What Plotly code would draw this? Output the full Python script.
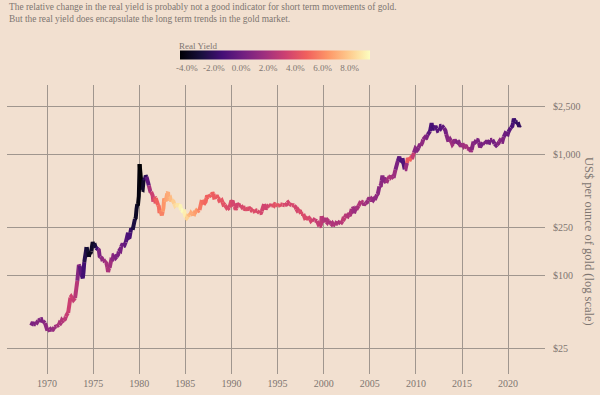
import numpy as np
import pandas as pd
import plotly.graph_objects as go
from plotly.colors import sample_colorscale

# ---------------- data ----------------
start_month = "1968-04-01"

# monthly gold price, US$ / oz (Apr 1968 .. Apr 2021)
gold_price = [
    38.5, 40.6, 41.1, 39.5, 39.2, 39.5, 39.4, 40.2, 41.1,
    42.3, 42.6, 43.3, 43.4, 43.5, 41.2, 42.0, 41.0, 40.9, 40.4, 37.5, 35.2,
    34.9, 35.0, 35.3, 35.6, 36.0, 35.4, 35.3, 35.4, 36.2, 37.5, 37.4, 37.4,
    37.9, 38.7, 38.9, 39.0, 40.5, 40.1, 41.0, 42.7, 42.0, 42.5, 42.9, 43.5,
    45.8, 48.3, 48.3, 49.0, 54.6, 62.1, 65.7, 67.0, 65.5, 64.9, 62.9, 63.9,
    65.1, 74.2, 84.4, 90.5, 102.0, 122.5, 120.2, 106.8, 103.0, 100.1, 94.8, 106.7,
    129.2, 150.2, 168.4, 172.2, 163.3, 154.1, 143.0, 154.6, 151.8, 158.8, 181.7, 190.0,
    175.8, 179.6, 178.2, 170.0, 167.2, 164.2, 165.1, 163.1, 144.6, 142.8, 142.2, 139.3,
    131.6, 131.0, 132.6, 128.3, 128.4, 125.7, 117.8, 107.0, 114.1, 116.0, 130.6, 133.6,
    132.3, 136.3, 148.3, 149.2, 146.6, 140.8, 143.4, 144.9, 149.2, 158.6, 162.2, 160.4,
    173.2, 178.2, 183.7, 175.3, 176.3, 183.7, 188.6, 206.3, 212.6, 227.2, 206.0, 207.8,
    227.3, 245.7, 242.1, 239.2, 257.6, 279.1, 294.7, 300.8, 355.1, 392.0, 392.7, 455.1,
    840.0, 665.3, 553.6, 517.4, 513.8, 600.7, 644.3, 626.5, 673.6, 661.1, 623.5, 594.9,
    557.6, 500.8, 499.1, 494.5, 479.7, 460.8, 409.3, 410.1, 443.6, 437.7, 413.4, 410.1,
    384.2, 374.3, 330.2, 350.5, 333.9, 314.9, 339.1, 364.1, 435.7, 422.5, 415.0, 445.6,
    481.3, 491.4, 419.9, 432.3, 438.0, 412.6, 422.8, 416.3, 411.9, 393.9, 381.5, 388.1,
    370.0, 385.9, 394.1, 381.1, 377.6, 377.6, 347.9, 348.4, 341.1, 340.2, 341.2, 320.2,
    303.0, 298.7, 304.3, 324.9, 316.5, 316.8, 317.3, 329.7, 323.7, 325.7, 325.5, 322.4,
    345.4, 339.0, 345.7, 340.4, 342.6, 342.6, 348.7, 376.1, 418.9, 423.3, 398.4, 391.1,
    408.3, 401.1, 408.9, 438.4, 460.5, 449.0, 450.5, 461.0, 460.1, 465.4, 467.6, 486.3,
    477.6, 442.2, 443.6, 452.0, 451.0, 452.0, 436.9, 432.5, 413.2, 406.8, 419.8, 419.1,
    404.0, 387.8, 390.2, 384.2, 371.2, 367.6, 375.0, 365.4, 362.6, 367.1, 393.9, 409.4,
    410.1, 416.8, 393.1, 374.3, 369.1, 352.3, 362.5, 394.7, 389.1, 380.8, 381.5, 378.2,
    383.6, 363.8, 363.3, 358.4, 356.8, 366.7, 367.7, 356.2, 348.7, 358.7, 359.7, 361.1,
    354.5, 353.9, 344.3, 338.6, 337.2, 340.8, 352.7, 342.8, 345.4, 344.4, 335.0, 334.7,
    329.0, 329.3, 330.1, 342.2, 367.2, 371.9, 392.0, 378.6, 355.3, 364.2, 373.8, 383.3,
    387.0, 381.8, 384.1, 377.3, 381.4, 385.6, 385.0, 380.4, 391.6, 389.8, 384.4, 379.3,
    378.6, 376.5, 382.1, 391.0, 385.3, 387.6, 386.2, 383.7, 383.1, 383.1, 385.9, 387.4,
    400.1, 404.8, 396.2, 392.8, 392.0, 385.4, 383.5, 387.5, 383.1, 381.1, 377.9, 369.3,
    355.0, 346.6, 351.8, 344.5, 343.8, 340.8, 324.1, 323.8, 322.8, 324.9, 306.0, 288.7,
    289.1, 297.5, 295.9, 308.4, 299.1, 292.3, 292.9, 284.1, 288.4, 296.0, 294.1, 291.7,
    287.1, 287.3, 285.9, 282.6, 276.4, 261.3, 256.1, 256.7, 264.7, 310.7, 293.2, 283.1,
    284.6, 300.0, 286.4, 279.7, 275.3, 285.7, 281.6, 274.5, 273.7, 270.0, 266.0, 271.5,
    265.5, 261.9, 263.1, 260.5, 272.4, 270.2, 267.5, 272.4, 283.4, 283.1, 276.2, 275.9,
    281.7, 295.5, 294.0, 302.7, 314.5, 321.2, 313.3, 310.3, 319.2, 316.6, 319.2, 333.4,
    356.9, 359.0, 340.6, 328.2, 355.7, 356.4, 351.0, 359.8, 378.9, 378.9, 389.9, 407.6,
    414.0, 405.3, 406.7, 403.0, 383.8, 392.4, 398.1, 400.5, 405.3, 420.5, 439.4, 442.1,
    424.0, 423.4, 434.2, 429.2, 421.9, 430.7, 424.5, 437.9, 456.0, 469.9, 476.7, 509.8,
    549.9, 555.0, 557.1, 610.6, 675.4, 596.2, 633.7, 632.6, 598.2, 585.8, 627.8, 629.8,
    631.2, 664.8, 654.9, 679.4, 666.9, 655.5, 665.3, 665.4, 712.7, 754.6, 806.3, 803.2,
    889.6, 922.3, 968.4, 909.7, 888.7, 889.5, 939.8, 839.0, 829.9, 760.0, 760.9, 816.1,
    858.7, 943.2, 924.3, 890.2, 928.6, 945.7, 934.2, 949.4, 996.6, 1043.2, 1127.0, 1134.7,
    1117.9, 1095.4, 1113.3, 1148.7, 1205.4, 1232.9, 1193.0, 1215.8, 1271.0, 1342.0, 1369.9, 1390.6,
    1356.4, 1372.7, 1424.0, 1473.8, 1510.4, 1528.7, 1572.8, 1780.0, 1840.0, 1665.2, 1738.9, 1652.3,
    1656.1, 1742.6, 1673.8, 1650.1, 1585.5, 1596.7, 1594.3, 1630.3, 1744.5, 1746.6, 1721.6, 1684.8,
    1671.9, 1627.6, 1593.1, 1487.9, 1414.0, 1343.4, 1285.5, 1351.7, 1348.6, 1316.6, 1275.8, 1221.5,
    1244.3, 1299.6, 1336.1, 1299.0, 1287.5, 1279.1, 1310.6, 1295.1, 1236.6, 1222.5, 1175.3, 1200.6,
    1250.8, 1227.1, 1178.6, 1198.9, 1198.6, 1181.5, 1128.3, 1117.9, 1124.8, 1159.3, 1086.4, 1068.3,
    1097.9, 1199.5, 1245.1, 1242.3, 1260.9, 1276.4, 1336.7, 1340.2, 1326.6, 1266.5, 1238.4, 1157.4,
    1192.1, 1234.2, 1231.1, 1266.9, 1246.0, 1260.3, 1236.8, 1283.0, 1314.1, 1279.5, 1281.9, 1264.5,
    1331.3, 1330.7, 1324.7, 1334.8, 1303.5, 1281.6, 1237.7, 1201.7, 1198.4, 1215.4, 1220.7, 1250.4,
    1291.8, 1320.1, 1300.9, 1285.9, 1283.7, 1359.0, 1412.9, 1500.4, 1510.6, 1494.8, 1470.0, 1479.1,
    1560.7, 1597.1, 1591.9, 1683.2, 1715.9, 1732.2, 1846.5, 2000.0, 1921.9, 1900.3, 1866.3, 1858.4,
    1867.8, 1808.2, 1718.2, 1770.0,
]

# quarterly real yield, % (Q2 1968 .. Q2 2021)
real_yield_q = [
    0.5, 0.6, 0.8,
    0.7, 0.6, 0.9, 1.2,
    1.3, 1.2, 1.5, 1.8,
    2.0, 2.2, 2.4, 2.7,
    3.0, 3.2, 3.3, 3.0,
    2.5, 0.8, -0.5, -1.5,
    -2.5, -3.2, -3.8, -3.5,
    -3.0, -1.5, 0.5, 1.2,
    1.6, 2.0, 2.2, 1.8,
    1.0, 0.6, 0.5, 0.4,
    0.2, -0.3, -0.8, -1.2,
    -1.8, -2.8, -3.6, -4.2,
    -4.5, -3.5, -2.2, -0.5,
    2.0, 3.2, 4.2, 4.8,
    5.2, 5.8, 6.4, 6.8,
    7.0, 7.5, 8.0, 8.4,
    8.7, 9.2, 9.4, 9.0,
    8.2, 7.5, 7.0, 6.8,
    6.5, 6.0, 5.5, 5.2,
    5.0, 4.8, 4.7, 4.8,
    4.6, 4.5, 4.4, 4.3,
    4.2, 4.0, 3.8, 3.8,
    3.6, 3.7, 3.5, 3.6,
    3.7, 3.8, 3.9, 3.8,
    3.9, 4.0, 3.8, 3.8,
    3.6, 3.5, 3.4, 3.5,
    3.7, 4.0, 4.2, 4.3,
    4.2, 3.9, 3.7, 3.6,
    3.5, 3.6, 3.7, 3.5,
    3.6, 3.8, 3.9, 3.8,
    3.8, 3.7, 3.5, 3.2,
    3.0, 3.0, 2.8, 2.6,
    2.3, 2.4, 2.2, 2.3,
    2.4, 2.3, 2.2, 2.6,
    2.8, 2.6, 2.4, 2.2,
    1.8, 1.6, 2.0, 2.4,
    2.4, 1.9, 1.6, 1.5,
    1.6, 1.3, 1.2, 1.0,
    1.1, 0.9, 1.0, 1.8,
    2.2, 2.0, 1.6, 0.5,
    -0.5, -1.2, -1.0, 1.5,
    4.5, 4.8, 3.0, 1.0,
    0.8, 0.9, 1.2, 0.9,
    0.5, -0.5, -1.2, -1.5,
    -1.0, -0.6, -0.8, -0.5,
    0.2, 0.8, 1.0, 1.8,
    1.2, 0.6, 0.8, 1.4,
    1.8, 2.0, 2.0, 1.6,
    0.8, 0.6, 0.5, 0.6,
    0.3, 0.6, 0.4, 0.2,
    0.6, 0.2, 0.3, 0.8,
    1.0, 0.6, 0.0, -0.2,
    -0.6, -1.2, -1.6, -1.8,
    -2.0, -2.2,
]

year_ticks = [1970, 1975, 1980, 1985, 1990, 1995, 2000, 2005, 2010, 2015, 2020]
price_ticks = [25, 100, 250, 1000, 2500]
price_tick_text = ["$25", "$100", "$250", "$1,000", "$2,500"]
yield_ticks = [-4, -2, 0, 2, 4, 6, 8]
yield_tick_text = ["-4.0%", "-2.0%", "0.0%", "2.0%", "4.0%", "6.0%", "8.0%"]

subtitle = ("The relative change in the real yield is probably not a good indicator for short term movements of gold.<br>"
            "But the real yield does encapsulate the long term trends in the gold market.")

# ---------------- styling ----------------
BG = "#F2E0D0"
GRID = "#A0968E"
TXT = "#7E7670"
FONT = "Liberation Serif"
CMIN, CMAX = -4.5, 9.5

dates = pd.date_range(start_month, periods=len(gold_price), freq="MS") + pd.Timedelta(days=14)
n = len(gold_price)

fig = go.Figure()
for q, ry in enumerate(real_yield_q):
    s = q * 3
    if s >= n:
        break
    e = min(s + 4, n)
    col = sample_colorscale("Magma", [(ry - CMIN) / (CMAX - CMIN)])[0]
    fig.add_trace(go.Scatter(
        x=dates[s:e], y=gold_price[s:e], mode="lines",
        line=dict(color=col, width=4), hoverinfo="skip", showlegend=False))

PL, PR, PT, PB = 7, 545, 85, 374
W, H = 600, 395

def px_x(x):
    return (x - PL) / (PR - PL)

def px_y(y):
    return (PB - y) / (PB - PT)

# colour bar
fig.add_trace(go.Scatter(
    x=[None], y=[None], mode="markers", showlegend=False, hoverinfo="skip",
    marker=dict(color=[0], colorscale="Magma", cmin=CMIN, cmax=CMAX, showscale=True,
                colorbar=dict(orientation="h", x=px_x(275), xanchor="center",
                              y=px_y(60.5), yanchor="middle", len=190, lenmode="pixels",
                              thickness=9, outlinewidth=0, ticks="",
                              tickvals=yield_ticks, ticktext=yield_tick_text,
                              tickfont=dict(family=FONT, size=9, color=TXT),
                              xpad=0, ypad=0))))

fig.update_layout(
    width=W, height=H,
    margin=dict(l=PL, r=W - PR, t=PT, b=H - PB, autoexpand=False),
    paper_bgcolor=BG, plot_bgcolor=BG,
    font=dict(family=FONT, color=TXT, size=10),
    xaxis=dict(type="date", range=["1965-08-29", "2024-01-01"],
               tickvals=[f"{y}-01-01" for y in year_ticks], ticktext=[str(y) for y in year_ticks],
               showgrid=True, gridcolor=GRID, gridwidth=1, zeroline=False, showline=False,
               ticks="", tickfont=dict(family=FONT, size=10, color=TXT), ticklabelstandoff=2),
    yaxis=dict(type="log", range=[1.184, 3.580], side="right",
               tickvals=price_ticks, ticktext=price_tick_text,
               showgrid=True, gridcolor=GRID, gridwidth=1, zeroline=False, showline=False,
               ticks="", tickfont=dict(family=FONT, size=10, color=TXT), ticklabelstandoff=7),
    hovermode=False,
    annotations=[
        dict(text=subtitle, xref="paper", yref="paper", x=px_x(7), y=px_y(0),
             xanchor="left", yanchor="top", align="left", showarrow=False,
             font=dict(family=FONT, size=9.4, color=TXT)),
        dict(text="Real Yield", xref="paper", yref="paper", x=px_x(177), y=px_y(46),
             xanchor="left", yanchor="middle", showarrow=False,
             font=dict(family=FONT, size=9, color=TXT)),
        dict(text="US$ per ounce of gold (log scale)", xref="paper", yref="paper",
             x=px_x(589), y=px_y(241), xanchor="center", yanchor="middle",
             textangle=90, showarrow=False,
             font=dict(family=FONT, size=12.5, color=TXT)),
    ],
)

fig.write_html(
    "out.html",
    config={"displayModeBar": False},
    post_script="document.body.style.margin='0';document.body.style.background='%s';" % BG,
)
